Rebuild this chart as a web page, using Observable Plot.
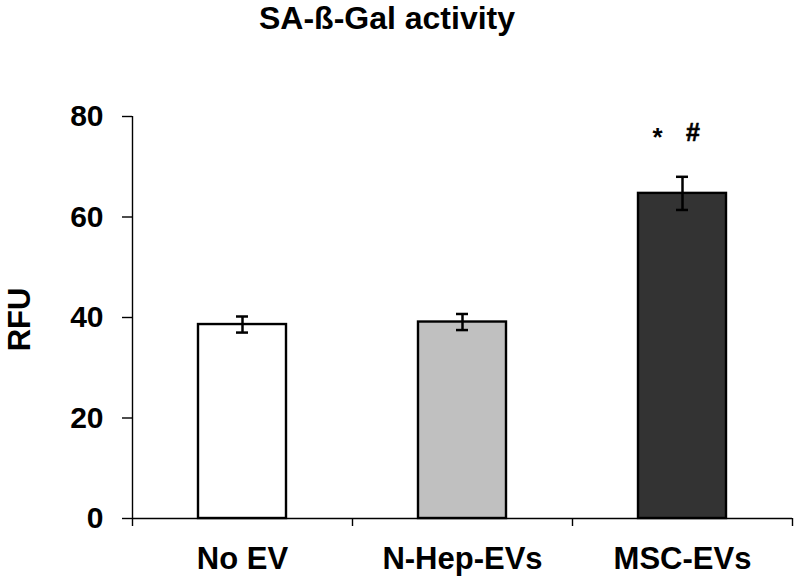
<!DOCTYPE html>
<html><head><meta charset="utf-8">
<script src="https://cdn.jsdelivr.net/npm/d3@7"></script>
<script src="https://cdn.jsdelivr.net/npm/@observablehq/plot@0.6"></script>
<style>
body{margin:0;background:#fff;}
#title{width:774px;height:44px;line-height:36px;text-align:center;font:bold 32px "Liberation Sans",Arial,sans-serif;color:#000;}
</style></head><body>
<div id="title">SA-ß-Gal activity</div>
<div id="chart"></div>
<script>
const categories = ["No EV", "N-Hep-EVs", "MSC-EVs"];
const values = [38.6, 39.1, 64.7];
const errors = [1.6, 1.6, 3.3];
const fills = ["#ffffff", "#c0c0c0", "#333333"];
const yTicks = [0, 20, 40, 60, 80];
const yLabel = "RFU";
const annotationCategory = "MSC-EVs";
const annotationLabels = ["*", "#"];
const annotationLevel = 77;

const data = categories.map((c, i) => ({category: c, value: values[i], error: errors[i], fill: fills[i]}));
const W = 800, H = 540, ML = 132, MR = 8;
const half = (W - ML - MR) / categories.length / 2;
const font = '"Liberation Sans", Arial, sans-serif';

const chart = Plot.plot({
  width: W, height: H,
  marginTop: 72, marginBottom: 66, marginLeft: ML, marginRight: MR,
  style: {fontFamily: font, fontWeight: "bold", color: "#000", background: "#fff"},
  x: {domain: categories, paddingInner: 0.6, paddingOuter: 0.3, axis: null},
  y: {domain: [0, 80], axis: null},
  color: {type: "identity"},
  marks: [
    Plot.barY(data, {x: "category", y: "value", fill: "fill", stroke: "#000", strokeWidth: 2.4}),
    Plot.ruleX(data, {x: "category", y1: d => d.value - d.error, y2: d => d.value + d.error, stroke: "#000", strokeWidth: 2.5}),
    Plot.tickY(data, {x: "category", y: d => d.value + d.error, insetLeft: 38, insetRight: 38, stroke: "#000", strokeWidth: 2.5}),
    Plot.tickY(data, {x: "category", y: d => d.value - d.error, insetLeft: 38, insetRight: 38, stroke: "#000", strokeWidth: 2.5}),
    Plot.ruleY([0], {stroke: "#000", strokeWidth: 1.5}),
    Plot.ruleX([categories[0]], {x: d => d, dx: -half, y1: 80, y2: 0, insetBottom: -8, stroke: "#000", strokeWidth: 1.4}),
    Plot.ruleX(categories.slice(1), {x: d => d, dx: -half, y1: 0, y2: 0, insetBottom: -8, stroke: "#000", strokeWidth: 1.4}),
    Plot.ruleX([categories[categories.length - 1]], {x: d => d, dx: half, y1: 0, y2: 0, insetBottom: -8, stroke: "#000", strokeWidth: 1.4}),
    Plot.axisY({ticks: yTicks, tickSize: 10, tickPadding: 19, fontSize: 30, fontWeight: "bold", label: null, strokeWidth: 1.4}),
    Plot.axisX({tickSize: 0, tickPadding: 28, fontSize: 31, fontWeight: "bold", label: null}),
    Plot.text([yLabel], {frameAnchor: "left", rotate: -90, dx: -112, dy: 2, textAnchor: "middle", lineAnchor: "middle", fontSize: 31, fontWeight: "bold", fill: "#000"}),
    Plot.text([annotationLabels[0]], {x: () => annotationCategory, y: () => annotationLevel, dx: -25, dy: 6, lineAnchor: "middle", fontSize: 26, fontWeight: "bold", fill: "#000"}),
    Plot.text([annotationLabels[1]], {x: () => annotationCategory, y: () => annotationLevel, dx: 10.5, dy: 1, lineAnchor: "middle", fontSize: 25, fontWeight: "bold", fill: "#000", stroke: "#000", strokeWidth: 0.6})
  ]
});
document.getElementById("chart").appendChild(chart);
</script>
</body></html>
